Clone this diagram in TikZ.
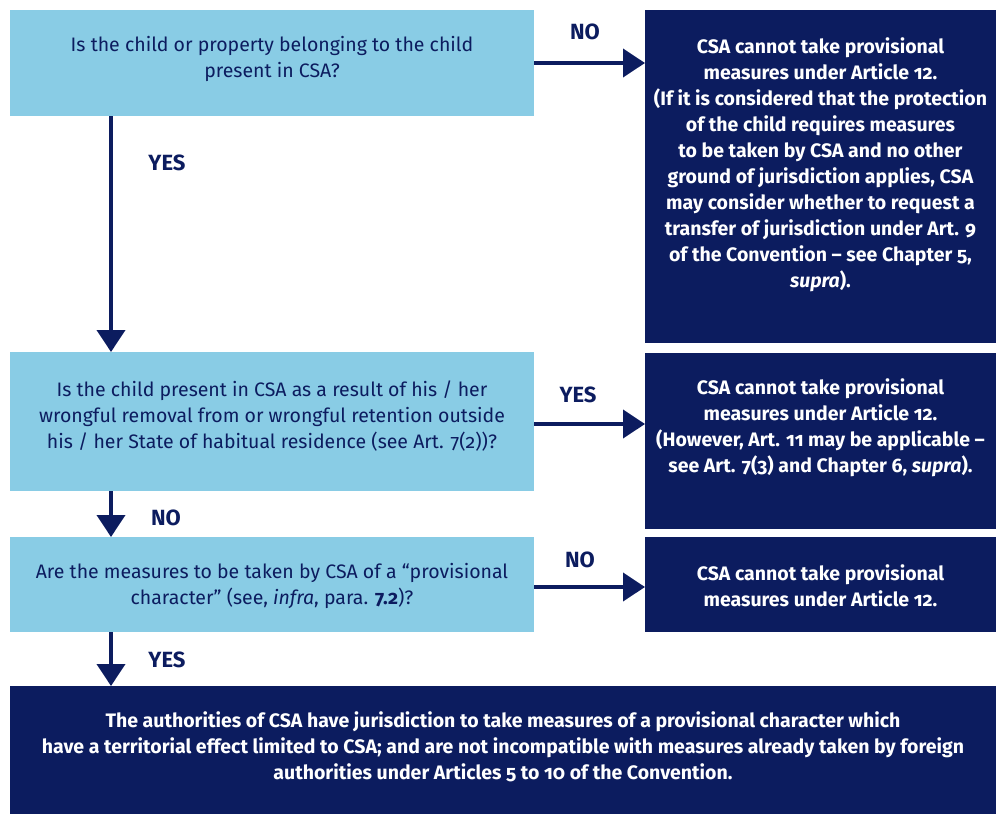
\documentclass[tikz,border=0pt]{standalone}
\usepackage{fontspec}
\setmainfont{Fira Sans}[Numbers=OldStyle]
\usetikzlibrary{arrows.meta,calc}
\definecolor{lblue}{HTML}{89CCE5}
\definecolor{navy}{HTML}{0C1C5F}
\begin{document}
\begin{tikzpicture}[x=1pt,y=-1pt,
  lbox/.style={fill=lblue,draw=none,inner sep=0pt,anchor=north west},
  dbox/.style={fill=navy,draw=none,inner sep=0pt,anchor=north west},
  ltext/.style={text=navy,align=center,inner sep=0pt,font=\fontsize{19.5}{26}\selectfont},
  dtext/.style={text=white,align=center,inner sep=0pt,font=\fontsize{19.5}{26}\selectfont\bfseries},
  lab/.style={text=navy,inner sep=0pt,font=\fontsize{22}{24}\selectfont\bfseries},
  arr/.style={draw=navy,line width=4pt,-{Triangle[width=28pt,length=22pt]}}]
\useasboundingbox (0,0) rectangle (996,814);
% boxes
\node[lbox,minimum width=524pt,minimum height=106pt] (b1) at (10,10) {};
\node[dbox,minimum width=351pt,minimum height=333pt] (d1) at (645,10) {};
\node[lbox,minimum width=524pt,minimum height=139pt] (b2) at (10,352) {};
\node[dbox,minimum width=351pt,minimum height=176pt] (d2) at (645,353) {};
\node[lbox,minimum width=524pt,minimum height=95pt] (b3) at (10,537) {};
\node[dbox,minimum width=351pt,minimum height=95pt] (d3) at (645,537) {};
\node[dbox,minimum width=986pt,minimum height=128pt] (b4) at (10,686) {};
% texts
\node[ltext] (t1) at (272,59) {Is the child or property belonging to the child\\present in CSA?};
\node[dtext] (u1) at (820.5,165) {CSA cannot take provisional\\measures under Article 12.\\(If it is considered that the protection\\of the child requires measures\\to be taken by CSA and no other\\ground of jurisdiction applies, CSA\\may consider whether to request a\\transfer of jurisdiction under Art. 9\\of the Convention – see Chapter 5,\\\textit{supra}).};
\node[ltext] (t2) at (272,416) {Is the child present in CSA as a result of his / her\\wrongful removal from or wrongful retention outside\\his / her State of habitual residence (see Art. 7(2))?};
\node[dtext] (u2) at (820.5,428) {CSA cannot take provisional\\measures under Article 12.\\(However, Art. 11 may be applicable –\\see Art. 7(3) and Chapter 6, \textit{supra}).};
\node[ltext] (t3) at (272,586) {Are the measures to be taken by CSA of a “provisional\\character” (see, \textit{infra}, para. \textbf{7.2})?};
\node[dtext] (u3) at (820.5,586) {CSA cannot take provisional\\measures under Article 12.};
\node[dtext] (t4) at (503,747) {The authorities of CSA have jurisdiction to take measures of a provisional character which\\have a territorial effect limited to CSA; and are not incompatible with measures already taken by foreign\\authorities under Articles 5 to 10 of the Convention.};
% connectors
\coordinate (xl) at (111,0);
\coordinate (y1) at (0,63);
\coordinate (y2) at (0,424);
\coordinate (y3) at (0,587);
\draw[arr] (b1.south -| xl) -- (b2.north -| xl);
\draw[arr] (b2.south -| xl) -- (b3.north -| xl);
\draw[arr] (b3.south -| xl) -- (b4.north -| xl);
\draw[arr] (b1.east |- y1) -- (d1.west |- y1);
\draw[arr] (b2.east |- y2) -- (d2.west |- y2);
\draw[arr] (b3.east |- y3) -- (d3.west |- y3);
% labels
\node[lab] (l1) at (585,32) {NO};
\node[lab] (l2) at (167,163) {YES};
\node[lab] (l3) at (578,395) {YES};
\node[lab] (l4) at (166,518) {NO};
\node[lab] (l5) at (580,560) {NO};
\node[lab] (l6) at (167,660) {YES};
\end{tikzpicture}
\end{document}
